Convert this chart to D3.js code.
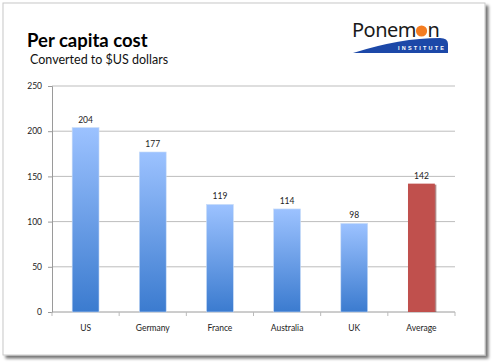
<!DOCTYPE html>
<html>
<head>
<meta charset="utf-8">
<script src="https://cdn.jsdelivr.net/npm/d3@7"></script>
<style>
  body { margin: 0; background: #fff; }
  svg { display: block; font-family: Lato, "Open Sans", sans-serif; }
</style>
</head>
<body>
<div id="chart"></div>
<script>
// chart data
const countries = ["US", "Germany", "France", "Australia", "UK", "Average"];
const costs = [204, 177, 119, 114, 98, 142];
const yTicks = [0, 50, 100, 150, 200, 250];

const W = 495, H = 363;
const margin = {top: 86, right: 40, bottom: 51, left: 52};

const svg = d3.select("#chart").append("svg")
    .attr("width", W)
    .attr("height", H);

const defs = svg.append("defs");

// slide shadow
const shadow = defs.append("filter").attr("id", "shadow")
    .attr("x", "-5%").attr("y", "-5%").attr("width", "115%").attr("height", "115%");
shadow.append("feGaussianBlur").attr("in", "SourceAlpha").attr("stdDeviation", 1.8);
shadow.append("feOffset").attr("dx", 3).attr("dy", 3).attr("result", "off");
shadow.append("feComponentTransfer").append("feFuncA").attr("type", "linear").attr("slope", 0.55);
const merge = shadow.append("feMerge");
merge.append("feMergeNode");
merge.append("feMergeNode").attr("in", "SourceGraphic");

// blue bar gradient
const grad = defs.append("linearGradient").attr("id", "blueGrad")
    .attr("x1", 0).attr("y1", 0).attr("x2", 0).attr("y2", 1);
grad.append("stop").attr("offset", "0%").attr("stop-color", "#9cc2ff");
grad.append("stop").attr("offset", "100%").attr("stop-color", "#3b7bcf");

svg.append("rect")
    .attr("x", 3).attr("y", 3)
    .attr("width", 482).attr("height", 352)
    .attr("fill", "#fff")
    .attr("stroke", "#c8c8c8")
    .attr("stroke-width", 1)
    .attr("filter", "url(#shadow)");

// titles
svg.append("text")
    .attr("x", 27).attr("y", 47)
    .attr("font-size", "18.5px")
    .attr("font-weight", "bold")
    .attr("fill", "#000")
    .text("Per capita cost");

svg.append("text")
    .attr("x", 30).attr("y", 64)
    .attr("font-size", "12.5px")
    .attr("fill", "#111")
    .text("Converted to $US dollars");

// logo
const logo = svg.append("g").attr("class", "logo");
logo.append("path")
    .attr("d", "M353,53 Q400,38 440,38 Q448,38 448,44 L448,53 Z")
    .attr("fill", "#1c48a8");
const logoFont = "'Noto Sans', 'Open Sans', sans-serif";
const word1 = logo.append("text")
    .attr("x", 352).attr("y", 37)
    .attr("font-family", logoFont)
    .attr("font-size", "20px")
    .attr("letter-spacing", "-0.5px")
    .attr("fill", "#1a1a1a")
    .text("Ponem");
const w1 = word1.node().getComputedTextLength();
// orange dot stands in for the second "o"
logo.append("circle")
    .attr("cx", 352 + w1 + 5.5).attr("cy", 31).attr("r", 5.6)
    .attr("fill", "#f47c20");
logo.append("text")
    .attr("x", 352 + w1 + 11.5).attr("y", 37)
    .attr("font-family", logoFont)
    .attr("font-size", "20px")
    .attr("fill", "#1a1a1a")
    .text("n");
logo.append("text")
    .attr("x", 398).attr("y", 49.5)
    .attr("font-family", "'Liberation Sans', Arial, sans-serif")
    .attr("font-size", "5.5px")
    .attr("font-weight", "bold")
    .attr("letter-spacing", "2.2px")
    .attr("fill", "#fff")
    .text("INSTITUTE");

// chart area
const plotW = W - margin.left - margin.right;
const plotH = 312 - margin.top;

const g = svg.append("g")
    .attr("transform", `translate(${margin.left}, ${margin.top})`);

const x = d3.scaleBand()
    .domain(countries)
    .range([0, plotW])
    .paddingInner(0.6)
    .paddingOuter(0.3);

const y = d3.scaleLinear()
    .domain([0, 250])
    .range([plotH, 0]);

// gridlines
g.selectAll(".grid")
    .data(yTicks.filter(d => d > 0))
    .join("line")
    .attr("class", "grid")
    .attr("x1", 0).attr("x2", plotW)
    .attr("y1", d => y(d)).attr("y2", d => y(d))
    .attr("stroke", "#bdbdbd")
    .attr("stroke-width", 1);

// y axis
const yAxis = d3.axisLeft(y).tickValues(yTicks).tickSize(4).tickPadding(6);
const yAxisGroup = g.append("g").attr("class", "y-axis").call(yAxis);
yAxisGroup.select(".domain").attr("stroke", "#9a9a9a");
yAxisGroup.selectAll(".tick line").attr("stroke", "#9a9a9a");
yAxisGroup.selectAll("text")
    .attr("font-size", "8.5px")
    .attr("fill", "#222")
    .attr("font-family", "Lato, sans-serif");

// x axis
const xOuter = d3.scalePoint().domain(d3.range(7)).range([0, plotW]);
const xAxisGroup = g.append("g")
    .attr("class", "x-axis")
    .attr("transform", `translate(0, ${plotH})`);
xAxisGroup.append("line")
    .attr("x1", 0).attr("x2", plotW)
    .attr("stroke", "#9a9a9a");
xAxisGroup.selectAll(".xtick")
    .data(d3.range(7))
    .join("line")
    .attr("class", "xtick")
    .attr("x1", d => xOuter(d)).attr("x2", d => xOuter(d))
    .attr("y1", 0).attr("y2", 4)
    .attr("stroke", "#bbbbbb");
xAxisGroup.selectAll(".xlabel")
    .data(countries)
    .join("text")
    .attr("class", "xlabel")
    .attr("x", d => x(d) + x.bandwidth() / 2)
    .attr("y", 19)
    .attr("text-anchor", "middle")
    .attr("font-size", "8.5px")
    .attr("fill", "#222")
    .text(d => d);

// bars
const data = countries.map((c, i) => ({country: c, cost: costs[i]}));

g.selectAll(".bar-shadow")
    .data(data.filter(d => d.country === "Average"))
    .join("rect")
    .attr("class", "bar-shadow")
    .attr("x", d => x(d.country) + 1.5)
    .attr("y", d => y(d.cost) + 1)
    .attr("width", x.bandwidth())
    .attr("height", d => plotH - y(d.cost) - 1)
    .attr("fill", "#7d3432")
    .attr("opacity", 0.6);

g.selectAll(".bar")
    .data(data)
    .join("rect")
    .attr("class", "bar")
    .attr("x", d => x(d.country))
    .attr("y", d => y(d.cost))
    .attr("width", x.bandwidth())
    .attr("height", d => plotH - y(d.cost))
    .attr("fill", d => d.country === "Average" ? "#c0504d" : "url(#blueGrad)")
    .attr("stroke", d => d.country === "Average" ? "none" : "#c9dcf7")
    .attr("stroke-width", 0.6);

// value labels
g.selectAll(".val")
    .data(data)
    .join("text")
    .attr("class", "val")
    .attr("x", d => x(d.country) + x.bandwidth() / 2)
    .attr("y", d => y(d.cost) - 5)
    .attr("text-anchor", "middle")
    .attr("font-size", "8.5px")
    .attr("fill", "#222")
    .text(d => d.cost);
</script>
</body>
</html>
